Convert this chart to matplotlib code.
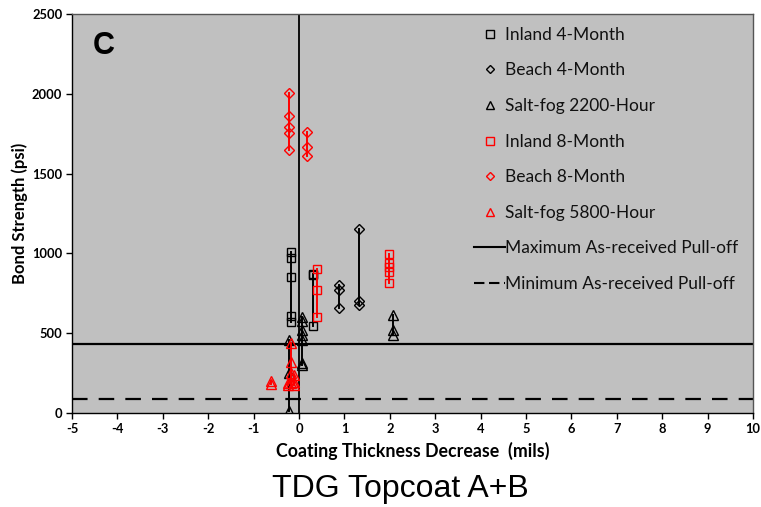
import matplotlib
matplotlib.use("Agg")
import matplotlib.pyplot as plt
from matplotlib.lines import Line2D

plt.rcParams["axes.unicode_minus"] = False

# ---- data: each series is a set of specimens (x = thickness decrease, y = pull-off values)
inland4_x = [-0.17, 0.31]
inland4_y = [[1009, 974, 852, 608, 570], [870, 862, 545]]

beach4_x = [0.89, 1.32]
beach4_y = [[802, 771, 660], [1151, 702, 677]]

saltfog2200_x = [-0.21, 0.06, 2.08]
saltfog2200_y = [[455, 250, 15], [600, 578, 520, 489, 460, 315, 300], [614, 520, 489]]

inland8_x = [0.40, 1.99]
inland8_y = [[902, 771, 600], [996, 938, 913, 882, 813]]

beach8_x = [-0.21, 0.17]
beach8_y = [[2007, 1861, 1794, 1756, 1648], [1763, 1669, 1610]]

saltfog5800_x = [-0.62, -0.25, -0.18, -0.10]
saltfog5800_y = [[198, 180], [190, 175], [437, 321, 249, 190], [240, 195, 175]]

max_pulloff = 432
min_pulloff = 88

x_ticks = list(range(-5, 11))
y_ticks = [0, 500, 1000, 1500, 2000, 2500]

series = [
    ("Inland 4-Month", inland4_x, inland4_y, "s", "black", 6.2),
    ("Beach 4-Month", beach4_x, beach4_y, "D", "black", 5.3),
    ("Salt-fog 2200-Hour", saltfog2200_x, saltfog2200_y, "^", "black", 6.6),
    ("Inland 8-Month", inland8_x, inland8_y, "s", "red", 6.2),
    ("Beach 8-Month", beach8_x, beach8_y, "D", "red", 5.3),
    ("Salt-fog 5800-Hour", saltfog5800_x, saltfog5800_y, "^", "red", 6.6),
]

tick_font = ["Lato", "DejaVu Sans"]

fig = plt.figure(figsize=(7.61, 5.07), dpi=100)
ax = fig.add_axes([72 / 761, 1 - 413 / 507, 681 / 761, 399 / 507])
ax.set_facecolor("#C0C0C0")
ax.set_xlim(-5, 10)
ax.set_ylim(0, 2500)

# reference lines
ax.axvline(0, color="black", lw=1.3, zorder=2)
ax.axhline(max_pulloff, color="black", lw=1.6, zorder=2)
ax.axhline(min_pulloff, color="black", lw=1.6, ls=(0, (7, 5)), zorder=2)

handles = []
for i, (name, xs, groups, mk, col, ms) in enumerate(series):
    for x, ys in zip(xs, groups):
        ax.plot([x] * len(ys), ys, color=col, lw=1.4, marker=mk, ms=ms,
                mfc="none", mec=col, mew=1.0, zorder=3 + i)
    handles.append(Line2D([], [], ls="none", marker=mk, color=col, mfc="none",
                          mec=col, mew=1.0, ms=ms * 0.85))
handles.append(Line2D([], [], color="black", lw=1.5))
handles.append(Line2D([], [], color="black", lw=1.5, ls=(0, (5, 2.2))))
labels = [s[0] for s in series] + ["Maximum As-received Pull-off",
                                   "Minimum As-received Pull-off"]

leg = ax.legend(handles, labels, loc="upper left", bbox_to_anchor=(0.591, 0.968),
                frameon=False, handlelength=1.76, handletextpad=0.02,
                labelspacing=1.13, borderpad=0.0, borderaxespad=0.0,
                prop={"family": tick_font, "size": 12.5})
for t in leg.get_texts():
    t.set_color("#111111")

ax.text(-4.55, 2300, "C", fontsize=22, fontweight="bold",
        family=["Liberation Sans", "DejaVu Sans"], va="center", ha="left")

ax.set_xticks(x_ticks)
ax.set_yticks(y_ticks)
ax.tick_params(axis="both", direction="out", length=4, width=1, labelsize=9.3, pad=3)
for lab in ax.get_xticklabels() + ax.get_yticklabels():
    lab.set_fontweight("bold")
    lab.set_family(tick_font)

for side in ("left", "bottom"):
    ax.spines[side].set_color("black")
    ax.spines[side].set_linewidth(1.0)
for side in ("top", "right"):
    ax.spines[side].set_color("#555555")
    ax.spines[side].set_linewidth(1.0)

ax.set_xlabel("Coating Thickness Decrease  (mils)", fontsize=12.8, fontweight="bold",
              family=tick_font, labelpad=5)
ax.set_ylabel("Bond Strength (psi)", fontsize=12, fontweight="bold",
              family=tick_font, labelpad=3)

fig.text(400 / 761, 1 - 489 / 507, "TDG Topcoat A+B", fontsize=23,
         family=["Liberation Sans", "DejaVu Sans"],
         ha="center", va="center")

fig.savefig("out.png", dpi=100)
